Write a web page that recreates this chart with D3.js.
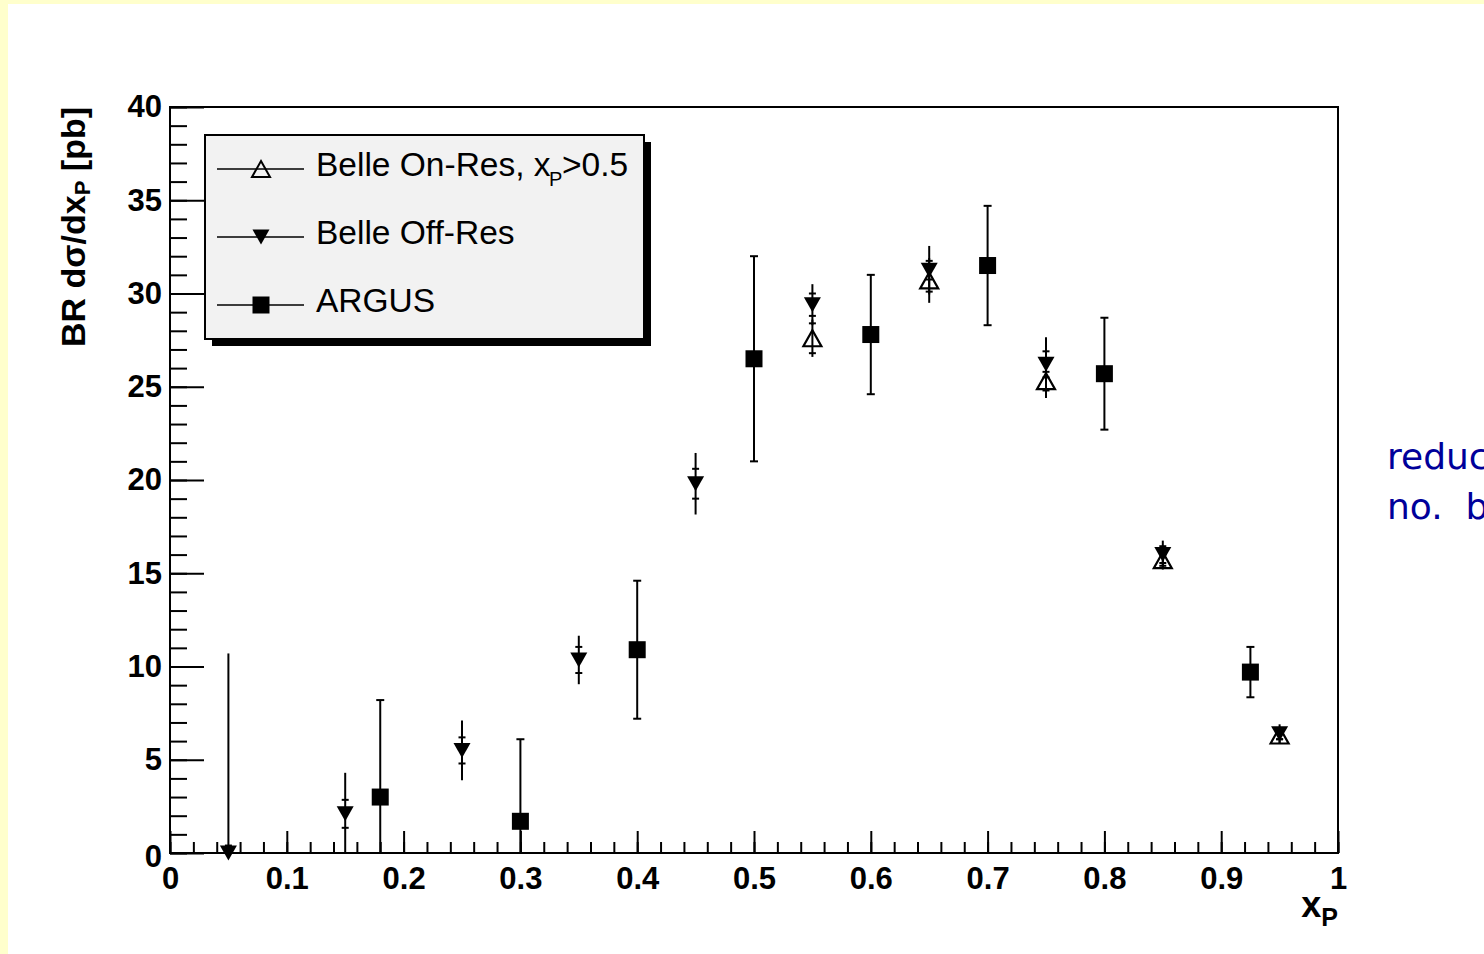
<!DOCTYPE html>
<html>
<head>
<meta charset="utf-8">
<script src="https://cdn.jsdelivr.net/npm/d3@7"></script>
<style>
  body { margin: 0; background: #ffffcc; overflow: hidden; }
  svg { display: block; }
</style>
</head>
<body>
<div id="chart"></div>
<script>

// Belle Off-Res (filled triangle down)
var offX    = [0.05, 0.15, 0.25, 0.35, 0.45, 0.55, 0.65, 0.75, 0.85, 0.95];
var offY    = [0.0, 2.1, 5.5, 10.35, 19.8, 29.4, 31.25, 26.2, 16.0, 6.4];
var offStat = [0.4, 0.75, 0.7, 0.7, 0.8, 0.6, 0.5, 0.7, 0.45, 0.3];
var offTot  = [10.7, 2.2, 1.6, 1.3, 1.65, 1.1, 1.3, 1.45, 0.75, 0.5];

// Belle On-Res, xP>0.5 (open triangle up)
var onX    = [0.55, 0.65, 0.75, 0.85, 0.95];
var onY    = [27.6, 30.7, 25.3, 15.7, 6.3];
var onStat = [0.8, 0.6, 0.5, 0.3, 0.2];
var onTot  = [1.0, 1.2, 0.9, 0.5, 0.4];

// ARGUS (filled square)
var argX   = [0.18, 0.30, 0.40, 0.50, 0.60, 0.70, 0.80, 0.925];
var argY   = [3.0, 1.7, 10.9, 26.5, 27.8, 31.5, 25.7, 9.7];
var argErr = [5.2, 4.4, 3.7, 5.5, 3.2, 3.2, 3.0, 1.35];

var xTicks = [0, 0.1, 0.2, 0.3, 0.4, 0.5, 0.6, 0.7, 0.8, 0.9, 1];
var xTickLabels = ["0", "0.1", "0.2", "0.3", "0.4", "0.5", "0.6", "0.7", "0.8", "0.9", "1"];
var yTicks = [0, 5, 10, 15, 20, 25, 30, 35, 40];
var yTickLabels = ["0", "5", "10", "15", "20", "25", "30", "35", "40"];

var legendLabels = ["Belle On-Res, x", "Belle Off-Res", "ARGUS"];

/////////////////////////////////////////////////////////////////////

var W = 1484, H = 954;
var font = '"Liberation Sans", Arial, Helvetica, sans-serif';

var svg = d3.select("#chart").append("svg")
    .attr("width", W)
    .attr("height", H);

// slide background
svg.append("rect").attr("width", W).attr("height", H).attr("fill", "#ffffcc");
svg.append("rect").attr("x", 8).attr("y", 4)
    .attr("width", W - 8).attr("height", H - 4).attr("fill", "#ffffff");

var x = d3.scaleLinear().domain([0, 1]).range([170, 1338]);
var y = d3.scaleLinear().domain([0, 40]).range([853, 107]);

function clampY(v) { return y(Math.max(0, Math.min(40, v))); }

//  Axes (ticks point inward)
var xMinor = d3.range(0, 51).map(function(i) { return i / 50; });
var yMinor = d3.range(0, 41);

var gxMinor = svg.append("g")
    .attr("transform", "translate(0,853)")
    .call(d3.axisBottom(x).tickValues(xMinor).tickSize(-11).tickFormat(""));
var gxMajor = svg.append("g")
    .attr("transform", "translate(0,853)")
    .call(d3.axisBottom(x).tickValues(xTicks).tickSize(-22).tickPadding(14)
      .tickFormat(function(d, i) { return xTickLabels[i]; }));
var gyMinor = svg.append("g")
    .attr("transform", "translate(170,0)")
    .call(d3.axisLeft(y).tickValues(yMinor).tickSize(-17).tickFormat(""));
var gyMajor = svg.append("g")
    .attr("transform", "translate(170,0)")
    .call(d3.axisLeft(y).tickValues(yTicks).tickSize(-34).tickPadding(8)
      .tickFormat(function(d, i) { return yTickLabels[i]; }));

[gxMinor, gxMajor, gyMinor, gyMajor].forEach(function(g) {
  g.select(".domain").remove();
  g.selectAll(".tick line").attr("stroke", "#000").attr("stroke-width", 2);
  g.selectAll(".tick text")
    .attr("fill", "#000")
    .style("font-family", font)
    .style("font-weight", "bold")
    .style("font-size", "31px");
});
// the y "0" sits a little low, as in ROOT
gyMajor.selectAll(".tick text").filter(function(d) { return d === 0; }).attr("dy", "0.42em");

// frame
svg.append("rect")
    .attr("x", x(0)).attr("y", y(40))
    .attr("width", x(1) - x(0)).attr("height", y(0) - y(40))
    .attr("fill", "none").attr("stroke", "#000").attr("stroke-width", 2);

// axis titles
var xt = svg.append("text")
    .attr("x", 1338).attr("y", 917)
    .attr("text-anchor", "end")
    .style("font-family", font).style("font-weight", "bold").style("font-size", "36px");
xt.append("tspan").text("x");
xt.append("tspan").attr("dy", 9).style("font-size", "25px").text("P");

var yt = svg.append("text")
    .attr("transform", "translate(85,107) rotate(-90)")
    .attr("text-anchor", "end")
    .style("font-family", font).style("font-weight", "bold").style("font-size", "34px");
yt.append("tspan").text("BR d\u03c3/dx");
yt.append("tspan").attr("dy", 5).style("font-size", "22px").text("P");
yt.append("tspan").attr("dy", -5).text(" [pb]");

//  Markers
function triUp(w, h) {
  return "M" + (-w / 2) + "," + (h / 2) + "L" + (w / 2) + "," + (h / 2) + "L0," + (-h / 2) + "Z";
}
function triDown(w, h) {
  return "M" + (-w / 2) + "," + (-h / 2) + "L" + (w / 2) + "," + (-h / 2) + "L0," + (h / 2) + "Z";
}

var argData = argX.map(function(d, i) { return {x: d, y: argY[i], e: argErr[i]}; });
var offData = offX.map(function(d, i) { return {x: d, y: offY[i], s: offStat[i], t: offTot[i]}; });
var onData = onX.map(function(d, i) { return {x: d, y: onY[i], s: onStat[i], t: onTot[i]}; });

function drawBelle(data, cls) {
  var g = svg.append("g").attr("class", cls)
      .attr("stroke", "#000").attr("stroke-width", 2);
  g.selectAll("line.tot").data(data).enter().append("line")
      .attr("x1", function(d) { return x(d.x); })
      .attr("x2", function(d) { return x(d.x); })
      .attr("y1", function(d) { return clampY(d.y - d.t); })
      .attr("y2", function(d) { return clampY(d.y + d.t); });
  [-1, 1].forEach(function(sgn) {
    g.selectAll("line.cap" + sgn).data(data.filter(function(d) { return d.y + sgn * d.s > 0; }))
      .enter().append("line")
      .attr("x1", function(d) { return x(d.x) - 3.5; })
      .attr("x2", function(d) { return x(d.x) + 3.5; })
      .attr("y1", function(d) { return y(d.y + sgn * d.s); })
      .attr("y2", function(d) { return y(d.y + sgn * d.s); });
  });
  return g;
}

// ARGUS
var ga = svg.append("g").attr("stroke", "#000").attr("stroke-width", 2);
ga.selectAll("line.err").data(argData).enter().append("line")
    .attr("x1", function(d) { return x(d.x); })
    .attr("x2", function(d) { return x(d.x); })
    .attr("y1", function(d) { return clampY(d.y - d.e); })
    .attr("y2", function(d) { return clampY(d.y + d.e); });
[-1, 1].forEach(function(sgn) {
  ga.selectAll("line.cap" + sgn).data(argData.filter(function(d) { return d.y + sgn * d.e > 0; }))
    .enter().append("line")
    .attr("x1", function(d) { return x(d.x) - 4; })
    .attr("x2", function(d) { return x(d.x) + 4; })
    .attr("y1", function(d) { return y(d.y + sgn * d.e); })
    .attr("y2", function(d) { return y(d.y + sgn * d.e); });
});
svg.append("g").selectAll("rect").data(argData).enter().append("rect")
    .attr("x", function(d) { return x(d.x) - 8.5; })
    .attr("y", function(d) { return y(d.y) - 8.5; })
    .attr("width", 17).attr("height", 17)
    .attr("fill", "#000");

// Belle Off-Res
drawBelle(offData, "off");
svg.append("g").selectAll("path").data(offData).enter().append("path")
    .attr("d", triDown(17, 15))
    .attr("transform", function(d) { return "translate(" + x(d.x) + "," + y(d.y) + ")"; })
    .attr("fill", "#000");

// Belle On-Res
drawBelle(onData, "on");
svg.append("g").selectAll("path").data(onData).enter().append("path")
    .attr("d", triUp(18, 16))
    .attr("transform", function(d) { return "translate(" + x(d.x) + "," + y(d.y) + ")"; })
    .attr("fill", "none").attr("stroke", "#000").attr("stroke-width", 2.2)
    .attr("stroke-linejoin", "miter");

//  Legend
svg.append("rect")
    .attr("x", 212).attr("y", 142).attr("width", 439).attr("height", 204)
    .attr("fill", "#000");
svg.append("rect")
    .attr("x", 205).attr("y", 135).attr("width", 439).attr("height", 204)
    .attr("fill", "#f2f2f2").attr("stroke", "#000").attr("stroke-width", 2);

var rows = [169, 237, 305];
var lg = svg.append("g");
rows.forEach(function(ry, i) {
  lg.append("line")
      .attr("x1", 217).attr("x2", 304).attr("y1", ry).attr("y2", ry)
      .attr("stroke", "#000").attr("stroke-width", 1.5);
  lg.append("text")
      .attr("x", 316).attr("y", ry + 7)
      .style("font-family", font).style("font-size", "33.5px")
      .text(legendLabels[i]);
});
lg.append("path").attr("d", triUp(18, 16))
    .attr("transform", "translate(261," + rows[0] + ")")
    .attr("fill", "none").attr("stroke", "#000").attr("stroke-width", 2);
lg.append("path").attr("d", triDown(17, 15))
    .attr("transform", "translate(261," + rows[1] + ")")
    .attr("fill", "#000");
lg.append("rect").attr("x", 252.5).attr("y", rows[2] - 8.5)
    .attr("width", 17).attr("height", 17).attr("fill", "#000");
lg.append("text")
    .attr("x", 549).attr("y", rows[0] + 17)
    .style("font-family", font).style("font-size", "20px")
    .text("P");
lg.append("text")
    .attr("x", 562).attr("y", rows[0] + 7)
    .style("font-family", font).style("font-size", "33.5px")
    .text(">0.5");

// slide text cut at the right edge
var side = svg.append("g")
    .style("font-family", '"DejaVu Sans", sans-serif')
    .style("font-size", "36px")
    .attr("fill", "#00009a");
side.append("text").attr("x", 1387).attr("y", 469).text("reduc");
side.append("text").attr("x", 1387).attr("y", 519).text("no.\u00a0\u00a0b");

</script>
</body>
</html>
